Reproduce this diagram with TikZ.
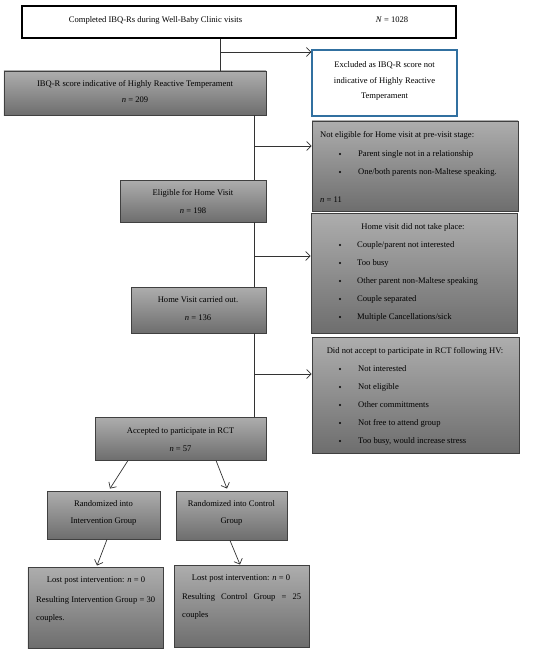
\documentclass[tikz,border=0pt]{standalone}
\usepackage{fontspec}
\setmainfont{Liberation Serif}
\usetikzlibrary{arrows.meta,shadows}
\definecolor{bluebd}{RGB}{49,112,160}
\tikzset{
  gbox/.style={draw=black!75, line width=0.9bp, top color=black!32, bottom color=black!57, inner sep=0,
    drop shadow={shadow xshift=0bp, shadow yshift=-1.3bp, fill=black!70, opacity=1}},
  wbox/.style={draw=black, line width=1.3bp, fill=white, inner sep=0},
  bbox/.style={draw=bluebd, line width=1.3bp, fill=white, inner sep=0},
  txt/.style={inner sep=0, font=\fontsize{8.6}{10}\selectfont},
  ltxt/.style={txt, anchor=west},
  bul/.style={circle, fill=black, inner sep=0, minimum size=2.2bp},
  conn/.style={draw=black!80, line width=0.7bp},
  arr/.style={conn, -{Straight Barb[length=4.5bp,width=9bp,line width=0.7bp]}},
}
\begin{document}
\begin{tikzpicture}[x=1bp,y=-1bp]
\useasboundingbox (0,0) rectangle (550,652);

% boxes
\node[wbox, minimum width=434bp, minimum height=32bp] (top) at (239,22) {};
\node[gbox, minimum width=262bp, minimum height=44bp] (ibq) at (135,93) {};
\node[bbox, minimum width=145bp, minimum height=66bp] (excl) at (384.5,83) {};
\node[gbox, minimum width=206bp, minimum height=90bp] (noteli) at (415,166) {};
\node[gbox, minimum width=146bp, minimum height=42bp] (elig) at (193,201) {};
\node[gbox, minimum width=206bp, minimum height=120bp] (hvnot) at (414,273) {};
\node[gbox, minimum width=135bp, minimum height=46bp] (hvdone) at (198.5,310) {};
\node[gbox, minimum width=207bp, minimum height=116bp] (notacc) at (415.5,395) {};
\node[gbox, minimum width=171bp, minimum height=43bp] (acc) at (180.5,438.5) {};
\node[gbox, minimum width=113bp, minimum height=48bp] (rint) at (103.5,515) {};
\node[gbox, minimum width=111bp, minimum height=49bp] (rctl) at (231.5,515.5) {};
\node[gbox, minimum width=135bp, minimum height=81bp] (lint) at (95.5,607.5) {};
\node[gbox, minimum width=135bp, minimum height=82bp] (lctl) at (241.5,606) {};

% texts
\node[txt] (t1) at (155.5,20) {Completed IBQ-Rs during Well-Baby Clinic visits};
\node[txt] (t2) at (392,20) {\textit{N} = 1028};

\node[txt] (t3) at (135,84) {IBQ-R score indicative of Highly Reactive Temperament};
\node[txt] (t4) at (135,100) {\textit{n} = 209};

\node[txt] (t5) at (384.5,65) {Excluded as IBQ-R score not};
\node[txt] (t6) at (384.5,81) {indicative of Highly Reactive};
\node[txt] (t7) at (384.5,97) {Temperament};

\node[ltxt] (t8) at (320,135) {Not eligible for Home visit at pre-visit stage:};
\node[bul] (b1) at (340,154) {};
\node[ltxt] (t9) at (358,154) {Parent single not in a relationship};
\node[bul] (b2) at (340,172) {};
\node[ltxt] (t10) at (358,172) {One/both parents non-Maltese speaking.};
\node[ltxt] (t11) at (320,200) {\textit{n} = 11};

\node[txt] (t12) at (193,193) {Eligible for Home Visit};
\node[txt] (t13) at (193,211) {\textit{n} = 198};

\node[txt] (t14) at (413,227) {Home visit did not take place:};
\node[bul] (b3) at (340,245) {};
\node[ltxt] (t15) at (357,245) {Couple/parent not interested};
\node[bul] (b4) at (340,263) {};
\node[ltxt] (t16) at (357,263) {Too busy};
\node[bul] (b5) at (340,281) {};
\node[ltxt] (t17) at (357,281) {Other parent non-Maltese speaking};
\node[bul] (b6) at (340,299) {};
\node[ltxt] (t18) at (357,299) {Couple separated};
\node[bul] (b7) at (340,317) {};
\node[ltxt] (t19) at (357,317) {Multiple Cancellations/sick};

\node[txt] (t20) at (198,300) {Home Visit carried out.};
\node[txt] (t21) at (198,318) {\textit{n} = 136};

\node[txt] (t22) at (415,351) {Did not accept to participate in RCT following HV:};
\node[bul] (b8) at (340,369) {};
\node[ltxt] (t23) at (358,369) {Not interested};
\node[bul] (b9) at (340,387) {};
\node[ltxt] (t24) at (358,387) {Not eligible};
\node[bul] (b10) at (340,405) {};
\node[ltxt] (t25) at (358,405) {Other committments};
\node[bul] (b11) at (340,423) {};
\node[ltxt] (t26) at (358,423) {Not free to attend group};
\node[bul] (b12) at (340,441) {};
\node[ltxt] (t27) at (358,441) {Too busy, would increase stress};

\node[txt] (t28) at (180.5,431) {Accepted to participate in RCT};
\node[txt] (t29) at (180.5,449) {\textit{n} = 57};

\node[txt] (t30) at (103.5,504) {Randomized into};
\node[txt] (t31) at (103.5,522) {Intervention Group};
\node[txt] (t32) at (231.5,504) {Randomized into Control};
\node[txt] (t33) at (231.5,522) {Group};

\node[txt] (t34) at (96,581) {Lost post intervention: \textit{n} = 0};
\node[ltxt] (t35) at (36,600) {\makebox[119bp][s]{Resulting Intervention Group = 30}};
\node[ltxt] (t36) at (36,618) {couples.};
\node[txt] (t37) at (241,579) {Lost post intervention: \textit{n} = 0};
\node[ltxt] (t38) at (182,597) {\makebox[119bp][s]{Resulting Control Group = 25}};
\node[ltxt] (t39) at (182,615) {couples};

% connectors
\coordinate (j1) at (220,52);
\coordinate (j2) at (254,146);
\coordinate (j3) at (254,256);
\coordinate (j4) at (254,374);
\draw[conn] (top.south -| j1) -- (ibq.north -| j1);
\draw[arr] (j1) -- (excl.west |- j1);
\draw[conn] (ibq.south -| j2) -- (elig.north -| j2);
\draw[arr] (j2) -- (noteli.west |- j2);
\draw[conn] (elig.south -| j3) -- (hvdone.north -| j3);
\draw[arr] (j3) -- (hvnot.west |- j3);
\draw[conn] (hvdone.south -| j4) -- (acc.north -| j4);
\draw[arr] (j4) -- (notacc.west |- j4);

\draw[arr] ([xshift=-52.5bp]acc.south) -- ([xshift=6.5bp,yshift=2bp]rint.north);
\draw[arr] ([xshift=35.5bp]acc.south) -- ([xshift=-4.5bp,yshift=2bp]rctl.north);
\draw[arr] ([xshift=3.5bp]rint.south) -- ([xshift=1.5bp,yshift=1bp]lint.north);
\draw[arr] ([xshift=-1.5bp]rctl.south) -- ([xshift=-1.5bp]lctl.north);
\end{tikzpicture}
\end{document}
